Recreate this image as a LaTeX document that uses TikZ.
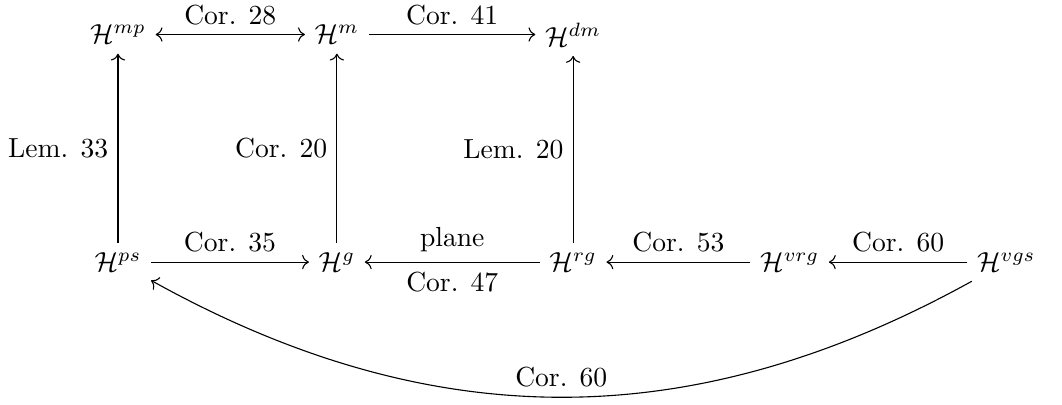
\documentclass[tikz,border=0pt]{standalone}
\usepackage{amsmath,amssymb}
\usetikzlibrary{arrows.meta,positioning,calc}
\tikzset{
  space/.style={inner sep=.3333em},
  implies/.style={->,line width=0.4pt},
  lab/.style={font=\normalsize}
}
\begin{document}
\begin{tikzpicture}
\useasboundingbox (-1.503,-1.81) rectangle (12.03,3.34);
\node[space](ps) at (0,0){$\mathcal{H}^{ps}$};
\node[space](g) at (2.79,0){$\mathcal{H}^{g}$};
\node[space](rg) at (5.80,0){$\mathcal{H}^{rg}$};
\node[space](vrg) at (8.56,0){$\mathcal{H}^{vrg}$};
\node[space](vgs) at (11.32,0){$\mathcal{H}^{vgs}$};
\node[space](mp) at (0,2.90){$\mathcal{H}^{mp}$};
\node[space](m) at (2.79,2.90){$\mathcal{H}^{m}$};
\node[space](dm) at (5.80,2.90){$\mathcal{H}^{dm}$};
% top row
\draw[implies,<->](mp)--node[above,lab]{Cor. 28}(m);
\draw[implies](m)--node[above,lab]{Cor. 41}(dm);
% vertical arrows
\draw[implies](ps)--node[left,lab]{Lem. 33}(mp);
\draw[implies](g)--node[left,lab]{Cor. 20}(m);
\draw[implies](rg)--node[left,lab]{Lem. 20}(dm);
% bottom row
\draw[implies](ps)--node[above,lab]{Cor. 35}(g);
\draw[implies](rg)--node[above,lab]{plane}node[below,lab]{Cor. 47}(g);
\draw[implies](vrg)--node[above,lab]{Cor. 53}(rg);
\draw[implies](vgs)--node[above,lab]{Cor. 60}(vrg);
\draw[implies](vgs) to[bend left=29] node[above,lab]{Cor. 60}(ps);
\end{tikzpicture}
\end{document}
